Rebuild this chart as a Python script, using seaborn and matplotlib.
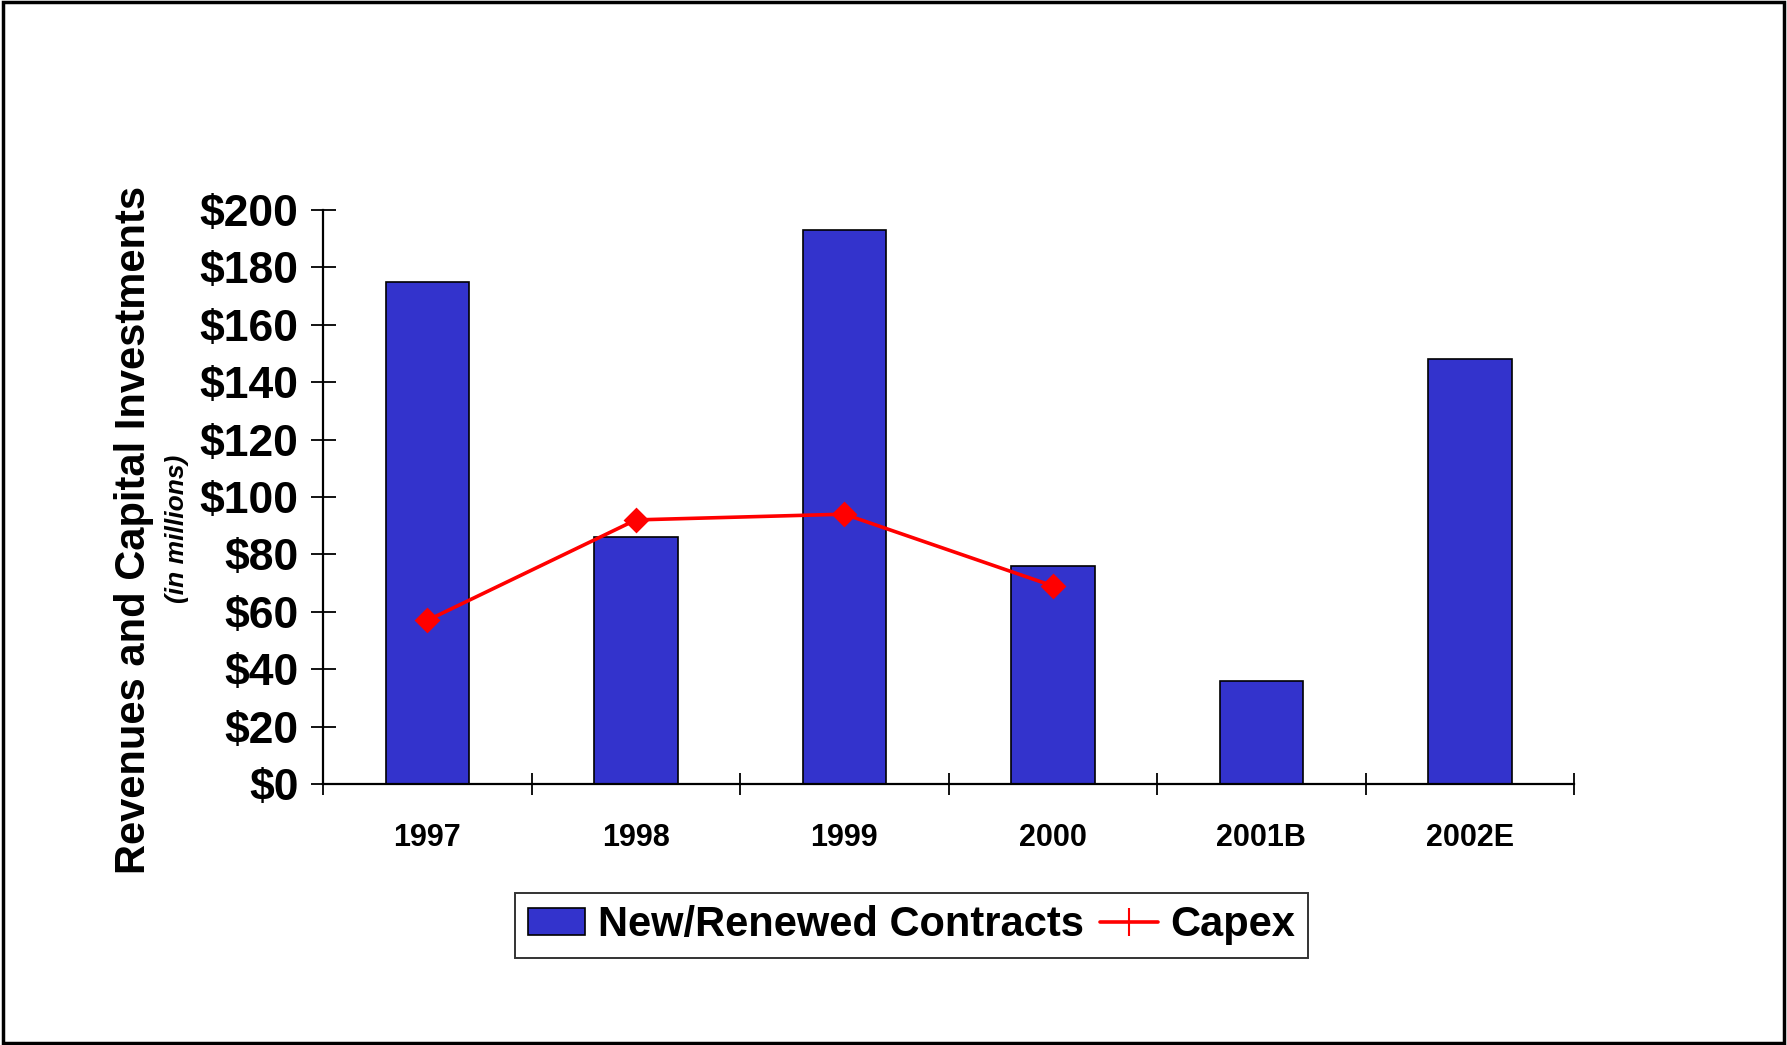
import numpy as np
import pandas as pd
import matplotlib
matplotlib.use("Agg")
import matplotlib.pyplot as plt
from matplotlib.patches import Patch, Rectangle
from matplotlib.lines import Line2D
from matplotlib.ticker import FixedLocator, FuncFormatter
import seaborn as sns

# Data (US$ millions)
years = ["1997", "1998", "1999", "2000", "2001B", "2002E"]
contracts = [175, 86, 193, 76, 36, 148]
capex_years = ["1997", "1998", "1999", "2000"]
capex = [57, 92, 94, 69]
y_ticks = [0, 20, 40, 60, 80, 100, 120, 140, 160, 180, 200]

BAR_BLUE = "#3333CC"
LINE_RED = "#FF0000"

sns.set_theme(style="white")
plt.rcParams["font.family"] = ["Liberation Sans", "DejaVu Sans"]
plt.rcParams["font.weight"] = "bold"
plt.rcParams["text.color"] = "black"

fig = plt.figure(figsize=(17.87, 10.45), dpi=100)
ax = fig.add_axes([0.1808, 0.2498, 0.7001, 0.5493])

bars = pd.DataFrame({"Year": years, "Contracts": contracts})
sns.barplot(data=bars, x="Year", y="Contracts", order=years, color=BAR_BLUE,
            saturation=1, width=0.4, edgecolor="black", linewidth=1.2, ax=ax)

line = pd.DataFrame({"Year": capex_years, "Capex": capex})
sns.pointplot(data=line, x="Year", y="Capex", order=years, color=LINE_RED,
              markers="D", errorbar=None, ax=ax,
              linewidth=2.6, markersize=11)

ax.set_xlim(-0.5, len(years) - 0.5)
ax.set_ylim(0, 200)

# Spines: only left and bottom
for side in ("top", "right"):
    ax.spines[side].set_visible(False)
for side in ("left", "bottom"):
    ax.spines[side].set_color("black")
    ax.spines[side].set_linewidth(1.6)

# Y axis ticks crossing the axis line
ax.yaxis.set_major_locator(FixedLocator(y_ticks))
ax.yaxis.set_major_formatter(FuncFormatter(lambda v, p: f"${v:.0f}"))
ax.tick_params(axis="y", which="major", direction="inout", length=18, width=1.3,
               color="black", left=True, pad=8.6, labelsize=32, labelcolor="black")
for t in ax.get_yticklabels():
    t.set_fontweight("bold")

# X axis: labels at category centres, tick marks at category boundaries
ax.set_xticks(np.arange(len(years)))
ax.set_xticklabels(years, fontsize=22, fontweight="bold", color="black")
ax.tick_params(axis="x", which="major", length=0, pad=28)
ax.set_xticks(np.arange(len(years) + 1) - 0.5, minor=True)
ax.tick_params(axis="x", which="minor", direction="inout", length=16, width=1.3,
               color="black", bottom=True)

ax.set_xlabel("")
ax.set_ylabel("")
ax.grid(False)

# Axis titles
fig.text(0.075, 0.4928, "Revenues and Capital Investments", rotation=90,
         ha="center", va="center", fontsize=30, fontweight="bold", color="black")
fig.text(0.0993, 0.4938, "(in millions)", rotation=90, ha="center", va="center",
         fontsize=19, fontweight="bold", fontstyle="italic", color="black")

# Legend
handles = [
    Patch(facecolor=BAR_BLUE, edgecolor="black", linewidth=1.2),
    Line2D([0], [0], color=LINE_RED, linewidth=2.6, marker="|",
           markersize=20, markeredgewidth=1.5),
]
leg = fig.legend(handles, ["New/Renewed Contracts", "Capex"],
                 loc="center", bbox_to_anchor=(0.5101, 0.1148), ncol=2,
                 prop={"size": 30, "weight": "bold"}, frameon=True,
                 fancybox=False, shadow=False, borderpad=0.3,
                 handlelength=1.37, handleheight=0.6, handletextpad=0.31,
                 columnspacing=0.4, borderaxespad=0, labelcolor="black")
leg.get_frame().set_edgecolor("black")
leg.get_frame().set_linewidth(1.4)

# Outer frame around the whole figure
fig.patches.append(Rectangle((0.0015, 0.002), 0.997, 0.996, transform=fig.transFigure,
                             fill=False, edgecolor="black", linewidth=2.5))

fig.savefig("out.png", dpi=100, facecolor="white")
